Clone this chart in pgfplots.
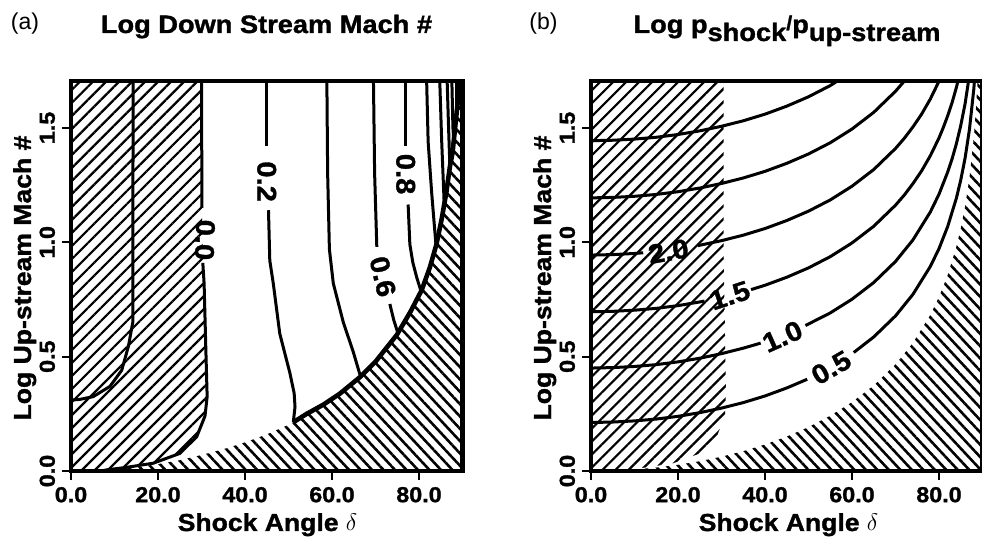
\documentclass[border=0pt]{standalone}
\usepackage{fontspec}
\setmainfont{Liberation Sans}[BoldFeatures={FakeStretch=1.08,FakeBold=1.3}]
\usepackage{pgfplots}
\pgfplotsset{compat=1.18}
\usetikzlibrary{patterns.meta}
\newcommand{\ttl}{\bfseries\fontsize{12.6}{14}\selectfont}
\newcommand{\lab}{\bfseries\fontsize{12.3}{14}\selectfont}
\newcommand{\clab}{\bfseries\fontsize{13.5}{14}\selectfont}
\pgfplotsset{
 myaxis/.style={
  scale only axis, width=195.75pt, height=195pt,
  xmin=0, xmax=90, ymin=0, ymax=1.705,
  axis on top, tick pos=left, tick align=outside,
  major tick length=4.5pt,
  xtick={0,20,40,60,80}, xticklabels={0.0,20.0,40.0,60.0,80.0},
  ytick={0,0.5,1,1.5}, yticklabels={0.0,0.5,1.0,1.5},
  ticklabel style={font=\bfseries\fontsize{10.8}{12}\selectfont},
  yticklabel style={rotate=90, anchor=south},
  axis line style={line width=2.2pt},
  tick style={black, line width=1pt},
  anchor=south west,
 },
 ct/.style={black, line width=1.5pt, no markers},
 bd/.style={black, line width=2.3pt, no markers},
 hA/.style={draw=none, no markers, pattern={Lines[angle=45,distance=4.6pt,line width=1.1pt]}},
 hB/.style={draw=none, no markers, pattern={Lines[angle=-47,distance=4.2pt,line width=1.3pt]}},
}
\begin{document}
\begin{tikzpicture}
\useasboundingbox (0,0) rectangle (491pt,-269.5pt);
% ---------------- panel (a)
\begin{axis}[myaxis, at={(35.5pt,-235.5pt)}]
\addplot[hA] coordinates {(0,0) (0,1.75) (30.0,1.75) (30.1,1.15) (30.3,0.95) (30.6,0.82) (31.0,0.53) (31.3,0.325) (30.8,0.24) (28.9,0.15) (25.05,0.077) (18.9,0.034) (12.8,0.016) (8.2,0.005) (7,0)} -- cycle;
\addplot[hB] coordinates {(7,0) (10,0.008) (15,0.017) (20,0.03) (25,0.047) (30,0.07) (35,0.095) (40,0.125) (45,0.16) (50,0.202) (51.1,0.213) (54.2,0.25) (58,0.29) (61.8,0.338) (66.4,0.41) (70,0.478) (74.9,0.595) (78,0.695) (80.6,0.79) (82.5,0.89) (84,0.99) (85.2,1.10) (86.3,1.22) (87.1,1.33) (87.7,1.39) (88.3,1.50) (89.0,1.63) (89.4,1.75) (91,1.75) (91,0)} -- cycle;
% boundary
\addplot[bd] coordinates {(51.1,0.213) (54.2,0.25) (58,0.29) (61.8,0.338) (66.4,0.41) (70,0.478) (74.9,0.595) (78,0.695) (80.6,0.79) (82.5,0.89) (84,0.99) (85.2,1.10) (86.3,1.22) (87.1,1.33) (87.7,1.39) (88.3,1.50) (89.0,1.63) (89.4,1.75)};
% contours
\addplot[ct] coordinates {(14.3,1.75) (14.2,0.9) (14.2,0.65) (13.2,0.545) (11.65,0.44) (8.96,0.37) (5.1,0.325) (2,0.313) (0,0.31)};
\addplot[ct] coordinates {(30.0,1.75) (30.1,1.15)};
\addplot[ct] coordinates {(30.3,0.91) (30.6,0.82) (31.0,0.53) (31.3,0.325) (30.8,0.24) (28.9,0.15) (25.05,0.077) (18.9,0.034) (12.8,0.016) (8.2,0.005) (7,0)};
\addplot[ct] coordinates {(45.0,1.75) (45.0,1.42)};
\addplot[ct] coordinates {(45.4,1.14) (45.7,0.92) (46.5,0.82) (48.0,0.60) (50.3,0.43) (51.3,0.34) (51.5,0.28) (51.1,0.213)};
\addplot[ct] coordinates {(58.8,1.75) (59.0,1.3) (59.4,0.97) (60.3,0.82) (62.6,0.65) (64.9,0.52) (66.6,0.41)};
\addplot[ct] coordinates {(69.5,1.75) (69.8,1.3) (70.3,0.98)};
\addplot[ct] coordinates {(73.3,0.73) (74.2,0.66) (75.2,0.6)};
\addplot[ct] coordinates {(77.0,1.75) (77.0,1.42)};
\addplot[ct] coordinates {(77.5,1.165) (77.9,0.99) (78.6,0.91) (79.5,0.845) (80.4,0.79)};
\addplot[ct] coordinates {(81.7,1.75) (82.1,1.44) (82.9,1.22) (83.5,1.08) (83.9,0.99)};
\addplot[ct] coordinates {(84.7,1.75) (85.2,1.45) (85.8,1.165)};
\addplot[ct] coordinates {(86.4,1.75) (86.8,1.5) (87.1,1.33)};
\addplot[ct] coordinates {(87.5,1.75) (87.8,1.5) (88.0,1.445)};
\addplot[ct] coordinates {(88.6,1.75) (88.7,1.565)};
\node[font=\clab, rotate=-92, inner sep=0pt] at (30.8,1.01) {0.0};
\node[font=\clab, rotate=-90, inner sep=0pt] at (45.0,1.265) {0.2};
\node[font=\clab, rotate=-77, inner sep=0pt] at (71.7,0.85) {0.6};
\node[font=\clab, rotate=-90, inner sep=0pt] at (76.95,1.298) {0.8};
\end{axis}
% ---------------- panel (b)
\begin{axis}[myaxis, at={(295.5pt,-235.5pt)}]
\addplot[hA] coordinates {(0,0) (0,1.75) (30.5,1.75) (30.5,0.95) (30.8,0.6) (31.0,0.35) (30.8,0.24) (28.9,0.15) (25.05,0.077) (18.9,0.034) (12.8,0.016) (8.2,0.005) (7,0)} -- cycle;
\addplot[hB] coordinates {(0,0) (5,0.0017) (10,0.0066) (15,0.0151) (20,0.027) (25,0.0427) (30,0.0625) (35,0.0866) (40,0.1157) (45,0.1505) (50,0.1919) (55,0.2414) (60,0.301) (65,0.374) (70,0.4659) (74,0.5597) (78,0.6821) (80,0.7603) (82,0.8565) (84,0.9808) (85,1.0597) (86,1.1564) (87,1.2812) (88,1.4572) (88.5,1.5821) (88.9,1.717) (88.95,1.75) (91,1.75) (91,0)} -- cycle;
% log p ratio 3.0
\addplot[ct] coordinates {(0,1.444) (5,1.446) (10,1.451) (15,1.459) (20,1.471) (25,1.487) (30,1.507) (35,1.531) (40,1.560) (45,1.595) (50,1.636) (55,1.685) (60,1.745)};
% 2.5
\addplot[ct] coordinates {(0,1.194) (5,1.196) (10,1.201) (15,1.209) (20,1.221) (25,1.237) (30,1.257) (35,1.281) (40,1.310) (45,1.345) (50,1.386) (55,1.435) (60,1.495) (65,1.568) (70,1.660) (72,1.704) (74,1.754)};
% 2.0
\addplot[ct] coordinates {(0,0.944) (5,0.946) (10,0.951) (12,0.954)};
\addplot[ct] coordinates {(24.5,0.985) (30,1.007) (35,1.031) (40,1.060) (45,1.095) (50,1.136) (55,1.185) (60,1.245) (65,1.318) (70,1.410) (72,1.454) (74,1.504) (76,1.560) (78,1.626) (80,1.704) (81,1.750)};
% 1.5
\addplot[ct] coordinates {(0,0.696) (5,0.698) (10,0.703) (15,0.711) (20,0.723) (25,0.739) (26.1,0.743)};
\addplot[ct] coordinates {(36.8,0.793) (40,0.812) (45,0.847) (50,0.888) (55,0.937) (60,0.997) (65,1.070) (70,1.162) (72,1.206) (74,1.256) (76,1.312) (78,1.378) (80,1.456) (81,1.502) (82,1.553) (83,1.610) (84,1.677) (85,1.756)};
% 1.0
\addplot[ct] coordinates {(0,0.450) (5,0.452) (10,0.457) (15,0.465) (20,0.477) (25,0.493) (30,0.513) (35,0.537) (39,0.559)};
\addplot[ct] coordinates {(49.3,0.636) (55,0.691) (60,0.751) (65,0.824) (70,0.916) (74,1.010) (78,1.132) (80,1.210) (82,1.307) (83,1.364) (84,1.431) (85,1.510) (86,1.606) (87,1.731)};
% 0.5
\addplot[ct] coordinates {(0,0.212) (5,0.214) (10,0.219) (15,0.227) (20,0.239) (25,0.255) (30,0.275) (35,0.299) (40,0.328) (45,0.363) (49.7,0.401)};
\addplot[ct] coordinates {(60.4,0.518) (65,0.586) (70,0.678) (74,0.772) (78,0.894) (80,0.972) (82,1.069) (84,1.193) (85,1.272) (86,1.368) (87,1.493) (88,1.669) (88.5,1.794)};
\node[font=\clab, rotate=10, inner sep=0pt] at (17.8,0.96) {2.0};
\node[font=\clab, rotate=18, inner sep=0pt] at (31.9,0.767) {1.5};
\node[font=\clab, rotate=24, inner sep=0pt] at (44.0,0.588) {1.0};
\node[font=\clab, rotate=30, inner sep=0pt] at (55.2,0.452) {0.5};
\end{axis}
% ---------------- texts
\node[font=\fontsize{11.5}{13}\selectfont] at (12.5pt,-12pt) {(a)};
\node[font=\fontsize{11.5}{13}\selectfont] at (271.75pt,-12pt) {(b)};
\node[font=\ttl, anchor=base] at (133.25pt,-16.5pt) {Log Down Stream Mach \#};
\node[font=\ttl, anchor=base] at (393.5pt,-16.5pt) {Log p\raisebox{-4pt}{shock}\raisebox{1.5pt}{\fontsize{10}{10}\selectfont/}p\raisebox{-4pt}{up-stream}};
\node[font=\lab, anchor=base] at (133.75pt,-265.5pt) {Shock Angle $\delta$};
\node[font=\lab, anchor=base] at (394.25pt,-265.5pt) {Shock Angle $\delta$};
\node[font=\lab, anchor=base, rotate=90] at (15.5pt,-139pt) {Log Up-stream Mach \#};
\node[font=\lab, anchor=base, rotate=90] at (275.5pt,-139pt) {Log Up-stream Mach \#};
\end{tikzpicture}
\end{document}
